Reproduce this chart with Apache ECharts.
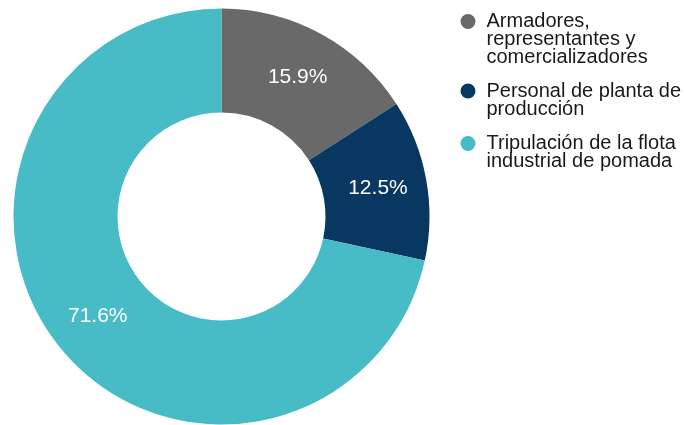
<!DOCTYPE html>
<html>
<head>
<meta charset="utf-8">
<script src="https://cdn.jsdelivr.net/npm/echarts@6/dist/echarts.min.js"></script>
<style>
html,body{margin:0;padding:0;background:#fff;}
#chart{width:684px;height:425px;}
</style>
</head>
<body>
<div id="chart"></div>
<script>
const categories = [
  'Armadores, representantes y comercializadores',
  'Personal de planta de producción',
  'Tripulación de la flota industrial de pomada'
];
const legendLines = [
  ['Armadores,', 'representantes y', 'comercializadores'],
  ['Personal de planta de', 'producción'],
  ['Tripulación de la flota', 'industrial de pomada']
];
const values = [15.9, 12.5, 71.6];
const colors = ['#696969', '#083761', '#48bcc6'];

const FONT = '"Liberation Sans", Arial, sans-serif';
const LH = 18;
const iconCenters = [20.5, 90, 142.5];

const legends = categories.map((name, i) => {
  const n = legendLines[i].length;
  // leading blank lines keep the first text line aligned with the icon
  const text = '\n'.repeat(n - 1) + legendLines[i].join('\n');
  const blockH = (2 * n - 1) * LH;
  return {
    data: [name],
    left: 460.5,
    top: iconCenters[i] - blockH / 2,
    padding: 0,
    icon: 'circle',
    itemWidth: 15,
    itemHeight: 15,
    selectedMode: false,
    formatter: () => text,
    textStyle: {
      fontFamily: FONT,
      fontSize: 20,
      lineHeight: LH,
      color: '#1a1a1a',
      padding: [0, 0, 0, 6]
    }
  };
});

const chart = echarts.init(document.getElementById('chart'), null, {renderer: 'canvas'});
chart.setOption({
  animation: false,
  color: colors,
  legend: legends,
  series: [{
    type: 'pie',
    center: [221.5, 216.5],
    radius: [104, 208],
    startAngle: 90,
    clockwise: true,
    avoidLabelOverlap: false,
    itemStyle: { borderWidth: 0 },
    label: {
      show: true,
      position: 'inside',
      formatter: p => p.value.toFixed(1) + '%',
      color: '#ffffff',
      fontFamily: FONT,
      fontSize: 21
    },
    labelLine: { show: false },
    emphasis: { disabled: true },
    data: categories.map((c, i) => ({ name: c, value: values[i] }))
  }]
});
</script>
</body>
</html>
